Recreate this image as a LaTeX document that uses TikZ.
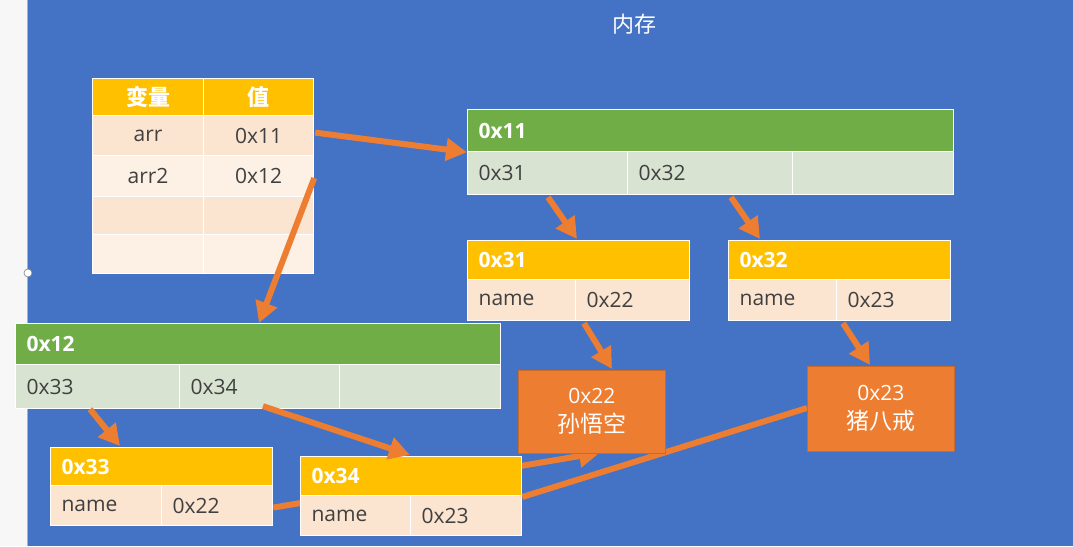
\documentclass[tikz,border=0pt]{standalone}
\usepackage{fontspec}
\setmainfont{Open Sans}
\newfontfamily\cjk{Noto Sans CJK SC}
\usetikzlibrary{arrows.meta,calc}
\definecolor{bgblue}{HTML}{4472C4}
\definecolor{gold}{HTML}{FFC000}
\definecolor{grn}{HTML}{70AD47}
\definecolor{ltgrn}{HTML}{D8E4D1}
\definecolor{peach}{HTML}{FBE4D0}
\definecolor{ltpeach}{HTML}{FDF0E5}
\definecolor{org}{HTML}{ED7D31}
\definecolor{txtgray}{HTML}{404040}
\definecolor{strip}{HTML}{F7F7F7}
\pgfdeclarelayer{bg}
\pgfdeclarelayer{back}
\pgfsetlayers{bg,back,main}
\newcommand\mkcell[6]{\pgfmathsetmacro\mytw{#4-22}\node[#1, text width=\mytw pt, minimum height=#5pt] (#2) at (#3) {#6};}
\tikzset{
  cellbase/.style={draw=white, line width=1.2pt, anchor=north west, inner xsep=11pt, inner ysep=0pt,
    font=\fontsize{21}{24}\selectfont, text=txtgray, align=left},
  hdr/.style={cellbase, fill=gold, text=white, font=\fontsize{21}{24}\selectfont\bfseries},
  ghdr/.style={hdr, fill=grn},
  grnrow/.style={cellbase, fill=ltgrn},
  prow/.style={cellbase, fill=peach},
  lprow/.style={cellbase, fill=ltpeach},
  ctr/.style={align=center},
  obox/.style={fill=org, draw=org!85!black, line width=0.6pt, anchor=north west, text=white, align=center,
    font=\fontsize{21}{29}\selectfont, inner sep=0pt},
  arr/.style={draw=org, line width=6pt, -{Triangle[length=21pt,width=22pt]}},
  plain/.style={draw=org, line width=6pt}
}
\begin{document}
\begin{tikzpicture}[x=1pt,y=-1pt]
\useasboundingbox (0,0) rectangle (1073,546);
\begin{pgfonlayer}{bg}
  \fill[strip] (0,0) rectangle (27,546);
  \fill[bgblue] (27,0) rectangle (1073,546);
  \draw[gray!60, line width=0.6pt] (27,0) -- (27,546);
\end{pgfonlayer}
\node[draw=gray, fill=white, circle, inner sep=0pt, minimum size=8pt, line width=0.6pt] (handle) at (28,273) {};
\node[text=white, font=\cjk\fontsize{22}{24}\selectfont] (title) at (634,24) {内存};

% variable table
\mkcell{hdr,ctr,font=\cjk\fontsize{22}{24}\selectfont\bfseries}{vh1}{92,78}{111}{37}{变量}
\mkcell{hdr,ctr,font=\cjk\fontsize{22}{24}\selectfont\bfseries}{vh2}{203,78}{110}{37}{值}
\mkcell{prow,ctr}{r1a}{92,115}{111}{40}{arr}
\mkcell{prow,ctr}{r1b}{203,115}{110}{40}{0x11}
\mkcell{lprow,ctr}{r2a}{92,155}{111}{41}{arr2}
\mkcell{lprow,ctr}{r2b}{203,155}{110}{41}{0x12}
\mkcell{prow,ctr}{r3a}{92,196}{111}{38}{}
\mkcell{prow,ctr}{r3b}{203,196}{110}{38}{}
\mkcell{lprow,ctr}{r4a}{92,234}{111}{39}{}
\mkcell{lprow,ctr}{r4b}{203,234}{110}{39}{}

% 0x11
\mkcell{ghdr}{h11}{467,109}{486}{42}{0x11}
\mkcell{grnrow}{c11a}{467,151}{160}{43}{0x31}
\mkcell{grnrow}{c11b}{627,151}{165}{43}{0x32}
\mkcell{grnrow}{c11c}{792,151}{161}{43}{}

% 0x31 / 0x32
\mkcell{hdr}{h31}{467,240}{222}{39}{0x31}
\mkcell{prow}{c31a}{467,279}{108}{41}{name}
\mkcell{prow}{c31b}{575,279}{114}{41}{0x22}
\mkcell{hdr}{h32}{728,240}{222}{39}{0x32}
\mkcell{prow}{c32a}{728,279}{108}{41}{name}
\mkcell{prow}{c32b}{836,279}{114}{41}{0x23}

% 0x12
\mkcell{ghdr}{h12}{15,323}{485}{41}{0x12}
\mkcell{grnrow}{c12a}{15,364}{164}{44}{0x33}
\mkcell{grnrow}{c12b}{179,364}{160}{44}{0x34}
\mkcell{grnrow}{c12c}{339,364}{161}{44}{}

% 0x33
\mkcell{hdr}{h33}{50,447}{222}{38}{0x33}
\mkcell{prow}{c33a}{50,485}{111}{40}{name}
\mkcell{prow}{c33b}{161,485}{111}{40}{0x22}

% 0x34
\mkcell{hdr}{h34}{300,456}{221}{39}{0x34}
\mkcell{prow}{c34a}{300,495}{110}{40}{name}
\mkcell{prow}{c34b}{410,495}{111}{40}{0x23}

% values
\node[obox, minimum width=147pt, minimum height=83pt] (o22) at (518,370) {0x22\\{\cjk\fontsize{23}{29}\selectfont 孙悟空}};
\begin{pgfonlayer}{back}
  \draw[arr] ($(c33b.east)+(0,2)$) -- ($(o22.south west)+(82,-1)$);
  \draw[plain] ($(c34b.north east)+(0,2)$) -- (807,408) coordinate (e23);
\end{pgfonlayer}
\node[obox, minimum width=147pt, minimum height=85pt] (o23) at (807,366) {0x23\\{\cjk\fontsize{23}{29}\selectfont 猪八戒}};

% arrows
\draw[arr] ($(r1b.east)+(1,-3)$) -- (h11.south west);
\draw[arr] ($(r2b.east)+(0,2)$) -- ($(h12.north west)+(244,0)$);
\draw[arr] ($(c11a.south west)+(81,2)$) -- ($(h31.north west)+(110,-1)$);
\draw[arr] ($(c11b.south west)+(104,2)$) -- ($(h32.north west)+(32,-1)$);
\draw[arr] ($(c31b.south west)+(9,2)$) -- ($(o22.north west)+(94,-1)$);
\draw[arr] ($(c32b.south west)+(7,2)$) -- ($(o23.north west)+(63,-1)$);
\draw[arr] ($(c12a.south west)+(75,0)$) -- ($(h33.north west)+(70,-1)$);
\draw[arr] ($(c12b.south west)+(84,-3)$) -- ($(h34.north west)+(110,-1)$);
\end{tikzpicture}
\end{document}
